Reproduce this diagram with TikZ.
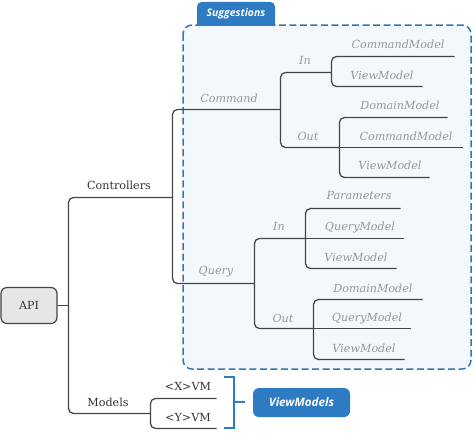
\documentclass[tikz,border=0pt]{standalone}
\usepackage{fontspec}
\setmainfont{DejaVu Serif}
\newfontfamily\tabfont{Open Sans}
\definecolor{linecol}{HTML}{444444}
\definecolor{darktext}{HTML}{333333}
\definecolor{graytext}{HTML}{979797}
\definecolor{boxblue}{HTML}{3276B8}
\definecolor{boxfill}{HTML}{F3F8FC}
\definecolor{tabblue}{HTML}{2C7BC3}
\definecolor{apifill}{HTML}{E6E6E6}
\begin{document}
\begin{tikzpicture}[x=1bp,y=-1bp,
  link/.style={draw=linecol, line width=1.25pt, rounded corners=5pt},
  lbl/.style={font=\fontsize{11.2}{13}\selectfont, text=darktext, inner sep=0pt},
  glbl/.style={font=\fontsize{11.2}{13}\selectfont\itshape, text=graytext, inner sep=0pt},
  tabnode/.style={fill=tabblue, text=white, rounded corners=5pt, inner sep=0pt,
    font=\tabfont\bfseries\itshape\fontsize{10.5}{12}\selectfont},
  bracket/.style={draw=tabblue, line width=1.7pt},
  groupbox/.style={draw=boxblue, fill=boxfill, line width=1.5pt, dash pattern=on 7pt off 3.5pt, rounded corners=9pt}]
\useasboundingbox (0,0) rectangle (474,432);
\fill[white] (0,0) rectangle (474,432);
% suggestions group
\path[groupbox] (183,25) rectangle (471,369);
\fill[tabblue] (197,16) rectangle (275,25.8);
\node[tabnode, minimum width=78bp, minimum height=23.5bp] (sugg) at (236,13.5) {Suggestions};
\begin{scope}[shift={(0.5,0.5)}]
% API
\node[draw=linecol, fill=apifill, line width=1.2pt, rounded corners=6pt, minimum width=56bp, minimum height=36bp,
  font=\fontsize{11.2}{13}\selectfont, text=darktext, inner sep=0pt] (api) at (28.5,305) {API};
% coordinates
\coordinate (tr) at (68,305);
\coordinate (ctrlJ) at (172,197);
\coordinate (modJ) at (150,413);
\coordinate (cmdJ) at (280,109);
\coordinate (qryJ) at (254,283);
\coordinate (cInJ) at (331,72);
\coordinate (cOutJ) at (339,147);
\coordinate (cInA) at (454,56);
\coordinate (cInB) at (422,86);
\coordinate (cOutA) at (447,117);
\coordinate (cOutB) at (462,147);
\coordinate (cOutC) at (429,177);
\coordinate (qInJ) at (305,238);
\coordinate (qOutJ) at (313,328);
\coordinate (qInA) at (400,208);
\coordinate (qInB) at (403,238);
\coordinate (qInC) at (396,268);
\coordinate (qOutA) at (422,299);
\coordinate (qOutB) at (410,328);
\coordinate (qOutC) at (404,359);
\coordinate (mX) at (216,398);
\coordinate (mY) at (216,428);
% connectors
\draw[link] (api.east) -- (tr);
\draw[link] (ctrlJ) -| (tr) |- (modJ);
\draw[link] (cmdJ) -| (ctrlJ) |- (qryJ);
\draw[link] (cInJ) -| (cmdJ) |- (cOutJ);
\draw[link] (cInA) -| (cInJ) |- (cInB);
\draw[link] (cOutA) -| (cOutJ) |- (cOutC);
\draw[link] (cOutJ) -- (cOutB);
\draw[link] (qInJ) -| (qryJ) |- (qOutJ);
\draw[link] (qInA) -| (qInJ) |- (qInC);
\draw[link] (qInJ) -- (qInB);
\draw[link] (qOutA) -| (qOutJ) |- (qOutC);
\draw[link] (qOutJ) -- (qOutB);
\draw[link] (mX) -| (modJ) |- (mY);
\end{scope}
% labels
\node[lbl] (tCtrl) at (119,185) {Controllers};
\node[lbl] (tMod) at (108,402) {Models};
\node[lbl] (tX) at (188,386) {<X>VM};
\node[lbl] (tY) at (188,417) {<Y>VM};
\node[glbl] (tCmd) at (229,98) {Command};
\node[glbl] (tCIn) at (305,60) {In};
\node[glbl] (tCOut) at (308,136) {Out};
\node[glbl] (tC1) at (398,44) {CommandModel};
\node[glbl] (tC2) at (382,75) {ViewModel};
\node[glbl] (tC3) at (400,105) {DomainModel};
\node[glbl] (tC4) at (406,136) {CommandModel};
\node[glbl] (tC5) at (390,165) {ViewModel};
\node[glbl] (tQry) at (216,272) {Query};
\node[glbl] (tQIn) at (279,226) {In};
\node[glbl] (tQOut) at (283,318) {Out};
\node[glbl] (tQ1) at (359,196) {Parameters};
\node[glbl] (tQ2) at (360,227) {QueryModel};
\node[glbl] (tQ3) at (356,257) {ViewModel};
\node[glbl] (tQ4) at (373,288) {DomainModel};
\node[glbl] (tQ5) at (367,318) {QueryModel};
\node[glbl] (tQ6) at (364,348) {ViewModel};
% bracket and ViewModels
\coordinate (brkM) at (234,402);
\coordinate (brkT) at (245,402);
\draw[bracket] (224,377) -- (234,377) -- (234,428) -- (224,428);
\draw[bracket] (brkM) -- (brkT);
\node[tabnode, rounded corners=6pt, minimum width=97bp, minimum height=29bp,
  font=\tabfont\bfseries\itshape\fontsize{11.7}{13}\selectfont] (vm) at (301.5,402.5) {ViewModels};
\end{tikzpicture}
\end{document}
